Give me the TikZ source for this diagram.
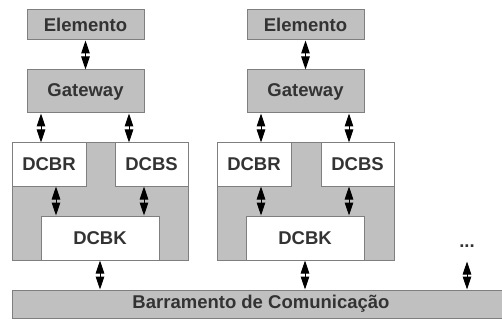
\documentclass[tikz,border=0pt]{standalone}
\usepackage{fontspec}
\setmainfont{Liberation Sans}
\usetikzlibrary{arrows.meta,calc}
\definecolor{boxgray}{HTML}{C0C0C0}
\definecolor{edgegray}{HTML}{7F7F7F}
\definecolor{txt}{HTML}{333333}
\tikzset{
  lbl/.style={font=\fontsize{18.5}{21}\selectfont\bfseries,text=txt},
  base/.style={lbl,draw=edgegray,line width=1pt,inner sep=0pt,outer sep=0pt},
  graybox/.style={base,fill=boxgray},
  whitebox/.style={base,fill=white},
  dbl/.style={{Triangle[length=13pt,width=8.5pt]}-{Triangle[length=13pt,width=8.5pt]},line width=1pt,black,shorten <=0.5pt,shorten >=0.5pt},
}
\begin{document}
\begin{tikzpicture}[x=1pt,y=-1pt]
\useasboundingbox (0,0) rectangle (502,320);
% bus
\fill[boxgray] (12,290) rectangle (505,318);
\draw[edgegray,line width=1pt] (505,290) -- (12,290) -- (12,318) -- (505,318);
\node[lbl,inner sep=0pt] (bus) at (261,304) {Barramento de Comunicação};
\coordinate (busn) at (12,290);
% left group
\node[graybox,minimum width=117pt,minimum height=30pt,anchor=north west] (el1) at (27,10) {Elemento};
\node[graybox,minimum width=117pt,minimum height=43pt,anchor=north west] (gw1) at (27,70) {Gateway};
\node[graybox,minimum width=176pt,minimum height=117pt,anchor=north west] (c1) at (12,143) {};
\node[whitebox,minimum width=74pt,minimum height=43pt,anchor=north west] (r1) at (12,143) {DCBR};
\node[whitebox,minimum width=73pt,minimum height=43pt,anchor=north west] (s1) at (115,143) {DCBS};
\node[whitebox,minimum width=118pt,minimum height=44pt,anchor=north west] (k1) at (41,216) {DCBK};
% right group
\node[graybox,minimum width=117pt,minimum height=30pt,anchor=north west] (el2) at (247,10) {Elemento};
\node[graybox,minimum width=117pt,minimum height=43pt,anchor=north west] (gw2) at (247,70) {Gateway};
\node[graybox,minimum width=177pt,minimum height=117pt,anchor=north west] (c2) at (217,143) {};
\node[whitebox,minimum width=74pt,minimum height=43pt,anchor=north west] (r2) at (217,143) {DCBR};
\node[whitebox,minimum width=73pt,minimum height=43pt,anchor=north west] (s2) at (321,143) {DCBS};
\node[whitebox,minimum width=118pt,minimum height=44pt,anchor=north west] (k2) at (246,216) {DCBK};
% dots
\node[lbl,inner sep=0pt] (dots) at (467,246) {...};
\coordinate (d) at (467,261);
% arrows
\foreach \i in {1,2}{
  \draw[dbl] (el\i.south) -- (gw\i.north);
  \draw[dbl] ([xshift=14pt]gw\i.south west) -- ([xshift=14pt]gw\i.south west |- r\i.north);
  \draw[dbl] ([xshift=-15pt]gw\i.south east) -- ([xshift=-15pt]gw\i.south east |- s\i.north);
  \draw[dbl] ([xshift=15pt]k\i.north west |- r\i.south) -- ([xshift=15pt]k\i.north west);
  \draw[dbl] ([xshift=-15pt]k\i.north east |- s\i.south) -- ([xshift=-15pt]k\i.north east);
  \draw[dbl] (k\i.south) -- (k\i.south |- busn);
}
\draw[dbl] (d) -- (d |- busn);
\end{tikzpicture}
\end{document}
